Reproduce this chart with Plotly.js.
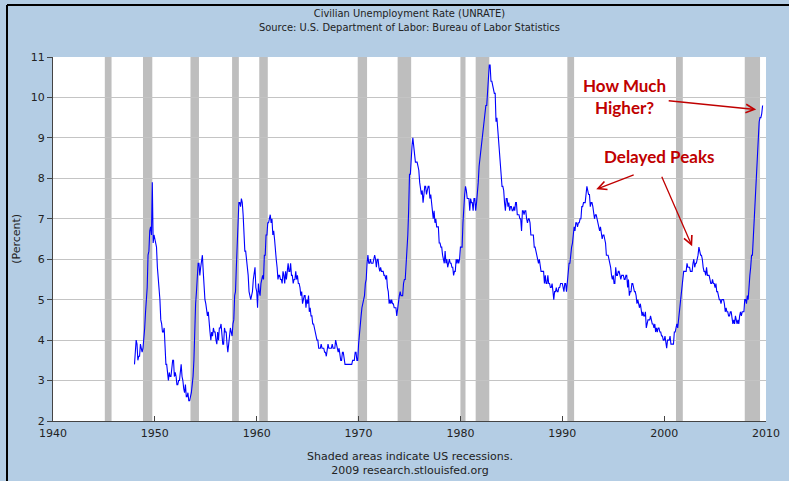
<!DOCTYPE html>
<html>
<head>
<meta charset="utf-8">
<script src="https://cdn.plot.ly/plotly-3.0.1.min.js"></script>
<style>html,body{margin:0;padding:0;background:#b4cde4;}</style>
</head>
<body>
<div id="chart" style="width:789px;height:481px;"></div>
<script>
// Monthly civilian unemployment rate (%), seasonally adjusted, starting Jan of each block's first year
const startYear = 1948;
const u1948_1949 = [3.4,3.8,4.0,3.9,3.5,3.6,3.6,3.9,3.8,3.7,3.8,4.0,
                    4.3,4.7,5.0,5.3,6.1,6.2,6.7,6.8,6.6,7.9,6.4,6.6];
const u1950s = [6.5,6.4,6.3,5.8,5.5,5.4,5.0,4.5,4.4,4.2,4.2,4.3,
                3.7,3.4,3.4,3.1,3.0,3.2,3.1,3.1,3.3,3.5,3.5,3.1,
                3.2,3.1,2.9,2.9,3.0,3.0,3.2,3.4,3.1,3.0,2.8,2.7,
                2.9,2.6,2.6,2.7,2.5,2.5,2.6,2.7,2.9,3.1,3.5,4.5,
                4.9,5.2,5.7,5.9,5.9,5.6,5.8,6.0,6.1,5.7,5.3,5.0,
                4.9,4.7,4.6,4.7,4.3,4.2,4.0,4.2,4.1,4.3,4.2,4.2,
                4.0,3.9,4.2,4.0,4.3,4.3,4.4,4.1,3.9,3.9,4.3,4.2,
                4.2,3.9,3.7,3.9,4.1,4.3,4.2,4.1,4.4,4.5,5.1,5.2,
                5.8,6.4,6.7,7.4,7.4,7.3,7.5,7.4,7.1,6.7,6.2,6.2,
                6.0,5.9,5.6,5.2,5.1,5.0,5.1,5.2,5.5,5.7,5.8,5.3];
const u1960s = [5.2,4.8,5.4,5.2,5.1,5.4,5.5,5.6,5.5,6.1,6.1,6.6,
                6.6,6.9,6.9,7.0,7.1,6.9,7.0,6.6,6.7,6.5,6.1,6.0,
                5.8,5.5,5.6,5.6,5.5,5.5,5.4,5.7,5.6,5.4,5.7,5.5,
                5.7,5.9,5.7,5.7,5.9,5.6,5.6,5.4,5.5,5.5,5.7,5.5,
                5.6,5.4,5.4,5.3,5.1,5.2,4.9,5.0,5.1,5.1,4.8,5.0,
                4.9,5.1,4.7,4.8,4.6,4.6,4.4,4.4,4.3,4.2,4.1,4.0,
                4.0,3.8,3.8,3.8,3.9,3.8,3.8,3.8,3.7,3.7,3.6,3.8,
                3.9,3.8,3.8,3.8,3.8,3.9,3.8,3.8,3.8,4.0,3.9,3.8,
                3.7,3.8,3.7,3.5,3.5,3.7,3.7,3.5,3.4,3.4,3.4,3.4,
                3.4,3.4,3.4,3.4,3.4,3.5,3.5,3.5,3.7,3.7,3.5,3.5];
const u1970s = [3.9,4.2,4.4,4.6,4.8,4.9,5.0,5.1,5.4,5.5,5.9,6.1,
                5.9,5.9,6.0,5.9,5.9,5.9,6.0,6.1,6.0,5.8,6.0,6.0,
                5.8,5.7,5.8,5.7,5.7,5.7,5.6,5.6,5.5,5.6,5.3,5.2,
                4.9,5.0,4.9,5.0,4.9,4.9,4.8,4.8,4.8,4.6,4.8,4.9,
                5.1,5.2,5.1,5.1,5.1,5.4,5.5,5.5,5.9,6.0,6.6,7.2,
                8.1,8.1,8.6,8.8,9.0,8.8,8.6,8.4,8.4,8.4,8.3,8.2,
                7.9,7.7,7.6,7.7,7.4,7.6,7.8,7.8,7.6,7.7,7.8,7.8,
                7.5,7.6,7.4,7.2,7.0,7.2,6.9,7.0,6.8,6.8,6.8,6.4,
                6.4,6.3,6.3,6.1,6.0,5.9,6.2,5.9,6.0,5.8,5.9,6.0,
                5.9,5.9,5.8,5.8,5.6,5.7,5.7,6.0,5.9,6.0,5.9,6.0];
const u1980s = [6.3,6.3,6.3,6.9,7.5,7.6,7.8,7.7,7.5,7.5,7.5,7.2,
                7.5,7.4,7.4,7.2,7.5,7.5,7.2,7.4,7.6,7.9,8.3,8.5,
                8.6,8.9,9.0,9.3,9.4,9.6,9.8,9.8,10.1,10.4,10.8,10.8,
                10.4,10.4,10.3,10.2,10.1,10.1,9.4,9.5,9.2,8.8,8.5,8.3,
                8.0,7.8,7.8,7.7,7.4,7.2,7.5,7.5,7.3,7.4,7.2,7.3,
                7.3,7.2,7.2,7.3,7.2,7.4,7.4,7.1,7.1,7.1,7.0,7.0,
                6.7,7.2,7.2,7.1,7.2,7.2,7.0,6.9,7.0,7.0,6.9,6.6,
                6.6,6.6,6.6,6.3,6.3,6.2,6.1,6.0,5.9,6.0,5.8,5.7,
                5.7,5.7,5.7,5.4,5.6,5.4,5.4,5.6,5.4,5.4,5.3,5.3,
                5.4,5.2,5.0,5.2,5.2,5.3,5.2,5.2,5.3,5.3,5.4,5.4];
const u1990s = [5.4,5.3,5.2,5.4,5.4,5.2,5.5,5.7,5.9,5.9,6.2,6.3,
                6.4,6.6,6.8,6.7,6.9,6.9,6.8,6.9,6.9,7.0,7.0,7.3,
                7.3,7.4,7.4,7.4,7.6,7.8,7.7,7.6,7.6,7.3,7.4,7.4,
                7.3,7.1,7.0,7.1,7.1,7.0,6.9,6.8,6.7,6.8,6.6,6.5,
                6.6,6.6,6.5,6.4,6.1,6.1,6.1,6.0,5.9,5.8,5.6,5.5,
                5.6,5.4,5.4,5.8,5.6,5.6,5.7,5.7,5.6,5.5,5.6,5.6,
                5.6,5.5,5.5,5.6,5.6,5.3,5.5,5.1,5.2,5.2,5.4,5.4,
                5.3,5.2,5.2,5.1,4.9,5.0,4.9,4.8,4.9,4.7,4.6,4.7,
                4.6,4.6,4.7,4.3,4.4,4.5,4.5,4.5,4.6,4.5,4.4,4.4,
                4.3,4.4,4.2,4.3,4.2,4.3,4.3,4.2,4.2,4.1,4.1,4.0];
const u2000s = [4.0,4.1,4.0,3.8,4.0,4.0,4.0,4.1,3.9,3.9,3.9,3.9,
                4.2,4.2,4.3,4.4,4.3,4.5,4.6,4.9,5.0,5.3,5.5,5.7,
                5.7,5.7,5.7,5.9,5.8,5.8,5.8,5.7,5.7,5.7,5.9,6.0,
                5.8,5.9,5.9,6.0,6.1,6.3,6.2,6.1,6.1,6.0,5.8,5.7,
                5.7,5.6,5.8,5.6,5.6,5.6,5.5,5.4,5.4,5.5,5.4,5.4,
                5.3,5.4,5.2,5.2,5.1,5.0,5.0,4.9,5.0,5.0,5.0,4.9,
                4.7,4.8,4.7,4.7,4.6,4.6,4.7,4.7,4.5,4.4,4.5,4.4,
                4.6,4.5,4.4,4.5,4.4,4.6,4.7,4.6,4.7,4.7,4.7,5.0,
                5.0,4.9,5.1,5.0,5.4,5.6,5.8,6.1,6.1,6.5,6.8,7.3,
                7.8,8.3,8.7,9.0,9.4,9.5,9.5,9.6,9.8];

// NBER recessions (start, end)
const recStart = ['1945-02-01','1948-11-01','1953-07-01','1957-08-01','1960-04-01','1969-12-01',
                  '1973-11-01','1980-01-01','1981-07-01','1990-07-01','2001-03-01','2007-12-01'];
const recEnd   = ['1945-10-01','1949-10-01','1954-05-01','1958-04-01','1961-02-01','1970-11-01',
                  '1975-03-01','1980-07-01','1982-11-01','1991-03-01','2001-11-01','2009-06-01'];

const yTicks = [2,3,4,5,6,7,8,9,10,11];
const xTickVals = ['1940-01-01','1950-01-01','1960-01-01','1970-01-01','1980-01-01','1990-01-01','2000-01-01','2010-01-01'];
const xTickText = ['1940','1950','1960','1970','1980','1990','2000','2010'];

const values = [].concat(u1948_1949, u1950s, u1960s, u1970s, u1980s, u1990s, u2000s);
const dates = values.map((v, i) => {
  const y = startYear + Math.floor(i / 12);
  const m = (i % 12) + 1;
  return y + '-' + (m < 10 ? '0' + m : m) + '-01';
});

const shapes = recStart.map((s, i) => ({
  type: 'rect', xref: 'x', yref: 'paper', x0: s, x1: recEnd[i], y0: 0, y1: 1,
  fillcolor: '#bebebe', line: {width: 0}, layer: 'below'
}));
// outer frame (top and left)
shapes.push({type: 'line', xref: 'paper', yref: 'paper', x0: -46/713, x1: 1.2, y0: (481-60-5)/364, y1: (481-60-5)/364,
             line: {color: '#000', width: 2}});
shapes.push({type: 'line', xref: 'paper', yref: 'paper', x0: -46/713, x1: -46/713, y0: -1, y1: (481-60-5)/364,
             line: {color: '#000', width: 2}});

const red = '#c00000';
const annFont = {family: 'Lato, "Open Sans", sans-serif', size: 17, color: red, weight: 'bold'};
const arrowStyle = {showarrow: true, text: '', arrowhead: 5, arrowsize: 1.3, arrowwidth: 1.3, arrowcolor: red, xref: 'x', yref: 'y'};
const annotations = [
  {x: 0.5, y: 1, xref: 'paper', yref: 'paper', yshift: 52, showarrow: false,
   text: 'Civilian Unemployment Rate (UNRATE)<br>Source: U.S. Department of Labor: Bureau of Labor Statistics',
   font: {family: '"DejaVu Sans Condensed", "Liberation Sans Narrow", sans-serif', size: 11, color: '#222'}, xanchor: 'center', yanchor: 'top'},
  {x: 0.5, y: 0, xref: 'paper', yref: 'paper', yshift: -27, showarrow: false,
   text: 'Shaded areas indicate US recessions.<br>2009 research.stlouisfed.org',
   font: {family: '"DejaVu Sans", Verdana, sans-serif', size: 11, color: '#222'}, xanchor: 'center', yanchor: 'top'},
  {x: -0.05, y: 0.5, xref: 'paper', yref: 'paper', xshift: -10, showarrow: false, textangle: -90,
   text: '(Percent)', font: {family: '"DejaVu Sans", Verdana, sans-serif', size: 11, color: '#222'}},
  {x: '1996-02-01', y: 10.02, xref: 'x', yref: 'y', showarrow: false,
   text: '<b>How Much<br>Higher?</b>', font: annFont, align: 'center'},
  {x: '1999-07-01', y: 8.55, xref: 'x', yref: 'y', showarrow: false,
   text: '<b>Delayed Peaks</b>', font: annFont},
  Object.assign({x: '2009-01-15', y: 9.7, ax: -89, ay: -9}, arrowStyle),
  Object.assign({x: '1993-05-01', y: 7.73, ax: 39, ay: -15}, arrowStyle),
  Object.assign({x: '2002-10-01', y: 6.32, ax: -31, ay: -71}, arrowStyle)
];

const tickFont = {family: '"DejaVu Sans", Verdana, sans-serif', size: 11, color: '#222'};

Plotly.newPlot('chart', [{
  x: dates, y: values, type: 'scatter', mode: 'lines',
  line: {color: '#0000ff', width: 1.1}, hoverinfo: 'x+y'
}], {
  width: 789, height: 481,
  margin: {l: 53, r: 23, t: 57, b: 60},
  paper_bgcolor: '#b4cde4', plot_bgcolor: '#ffffff',
  showlegend: false,
  xaxis: {
    type: 'date', range: ['1940-01-01', '2010-01-01'],
    tickvals: xTickVals, ticktext: xTickText,
    ticks: 'inside', ticklen: 5, tickcolor: '#444', tickwidth: 1,
    ticklabelstandoff: 2,
    showgrid: false, zeroline: false,
    showline: true, linecolor: '#444', linewidth: 1,
    tickfont: tickFont
  },
  yaxis: {
    range: [2, 11], tickvals: yTicks,
    ticks: 'outside', ticklen: 5, tickcolor: '#444', tickwidth: 1,
    showgrid: true, gridcolor: '#c4c4c4', gridwidth: 1,
    zeroline: false, showline: true, linecolor: '#444', linewidth: 1,
    tickfont: tickFont
  },
  shapes: shapes,
  annotations: annotations
}, {displayModeBar: false, staticPlot: true});
</script>
</body>
</html>
